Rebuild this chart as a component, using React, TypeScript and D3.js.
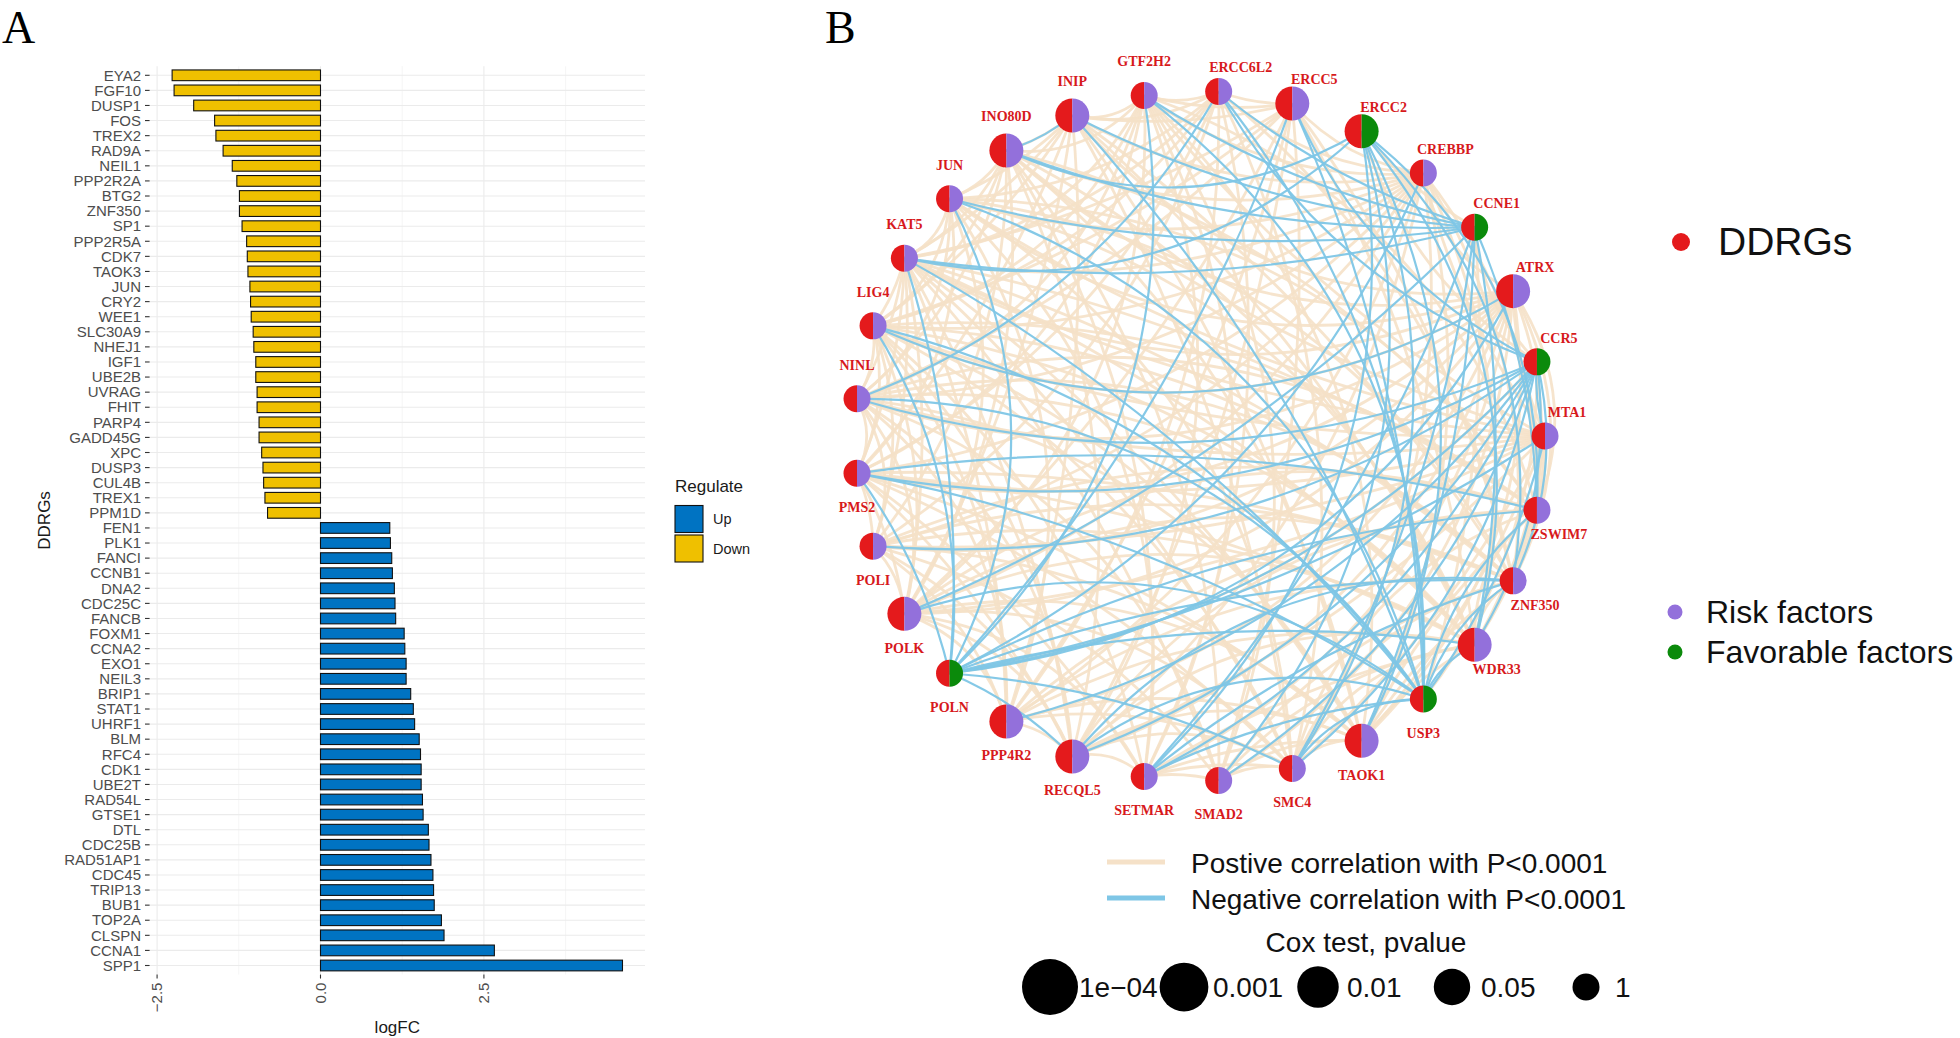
import React from "react";
import * as d3 from "d3";

// ---------- Panel A data ----------
const downGenes = ["EYA2","FGF10","DUSP1","FOS","TREX2","RAD9A","NEIL1","PPP2R2A","BTG2","ZNF350","SP1","PPP2R5A","CDK7","TAOK3","JUN","CRY2","WEE1","SLC30A9","NHEJ1","IGF1","UBE2B","UVRAG","FHIT","PARP4","GADD45G","XPC","DUSP3","CUL4B","TREX1","PPM1D"];
const downLogFC = [-2.27,-2.24,-1.94,-1.62,-1.60,-1.49,-1.35,-1.28,-1.24,-1.24,-1.20,-1.13,-1.12,-1.11,-1.08,-1.07,-1.06,-1.03,-1.02,-0.99,-0.99,-0.97,-0.97,-0.94,-0.94,-0.90,-0.88,-0.87,-0.85,-0.81];
const upGenes = ["FEN1","PLK1","FANCI","CCNB1","DNA2","CDC25C","FANCB","FOXM1","CCNA2","EXO1","NEIL3","BRIP1","STAT1","UHRF1","BLM","RFC4","CDK1","UBE2T","RAD54L","GTSE1","DTL","CDC25B","RAD51AP1","CDC45","TRIP13","BUB1","TOP2A","CLSPN","CCNA1","SPP1"];
const upLogFC = [1.06,1.07,1.09,1.10,1.13,1.14,1.15,1.28,1.29,1.31,1.31,1.38,1.42,1.44,1.51,1.53,1.54,1.54,1.56,1.57,1.65,1.66,1.69,1.72,1.73,1.74,1.85,1.89,2.66,4.62];
const regulateLevels = ["Up", "Down"];
const xTicksA = [-2.5, 0, 2.5];
const xTickLabelsA = ["\u22122.5", "0.0", "2.5"];

// ---------- Panel B data ----------
const networkGenes = ["MTA1","CCR5","ATRX","CCNE1","CREBBP","ERCC2","ERCC5","ERCC6L2","GTF2H2","INIP","INO80D","JUN","KAT5","LIG4","NINL","PMS2","POLI","POLK","POLN","PPP4R2","RECQL5","SETMAR","SMAD2","SMC4","TAOK1","USP3","WDR33","ZNF350","ZSWIM7"];
const favorableGenes = ["CCR5","CCNE1","ERCC2","POLN","USP3"];
const largeNodeGenes = ["INIP","ERCC5","ERCC2","ATRX","INO80D","WDR33","TAOK1","RECQL5","PPP4R2","POLK"];
const negativeEdgeList =
  "INO80D:INIP,ERCC2,CCNE1;JUN:CCNE1,USP3,POLN;KAT5:CCNE1,ERCC2,USP3,POLN;LIG4:ATRX,POLN,USP3;" +
  "NINL:ERCC6L2,CCR5,USP3;PMS2:ZSWIM7,POLN,CCR5,USP3;POLI:CCR5;POLK:USP3,CCNE1;" +
  "POLN:MTA1,ZSWIM7,ATRX,ZNF350,WDR33,SMC4,RECQL5,ERCC5,CREBBP,GTF2H2,CCR5;PPP4R2:CCR5;" +
  "RECQL5:ZNF350,CCR5;SETMAR:ZNF350,CCNE1,CCR5;SMAD2:ERCC2,CCR5;SMC4:CCNE1,ERCC2;TAOK1:CCNE1,ERCC2;" +
  "USP3:ERCC6L2,ERCC5,ZSWIM7,ZNF350,WDR33,MTA1,GTF2H2,SMC4,SETMAR,INIP,RECQL5;" +
  "ERCC2:WDR33,ZNF350,SETMAR,ZSWIM7;CCNE1:WDR33,ZSWIM7,ERCC6L2,GTF2H2,INIP;" +
  "CCR5:MTA1,ERCC6L2,ERCC5,ZNF350,WDR33,SMC4";
const positiveEdgeList =
  "MTA1:ATRX,ZSWIM7,ZNF350,WDR33,KAT5,LIG4,NINL,PMS2,POLI,POLK,INO80D,JUN,RECQL5,SMC4,TAOK1,CREBBP,GTF2H2;" +
  "ATRX:CREBBP,ZSWIM7,ZNF350,KAT5,LIG4,NINL,PMS2,POLI,POLK,INO80D,INIP,JUN,PPP4R2,RECQL5,SETMAR,SMAD2,TAOK1,WDR33;" +
  "CREBBP:ERCC5,ERCC6L2,GTF2H2,INIP,INO80D,JUN,KAT5,LIG4,NINL,PMS2,POLI,POLK,PPP4R2,RECQL5,SMC4,WDR33,ZNF350,ZSWIM7,TAOK1;" +
  "ERCC5:INIP,GTF2H2,ERCC6L2,KAT5,LIG4,NINL,POLK,PPP4R2,RECQL5,SMAD2,ZNF350,WDR33;" +
  "ERCC6L2:GTF2H2,INIP,JUN,KAT5,LIG4,PMS2,POLI,PPP4R2,SETMAR,SMC4,ZNF350;" +
  "GTF2H2:INIP,INO80D,KAT5,LIG4,NINL,PMS2,POLK,RECQL5,SETMAR,SMAD2,TAOK1,ZSWIM7;" +
  "INIP:INO80D,JUN,KAT5,LIG4,PMS2,POLK,PPP4R2,SMC4,TAOK1,WDR33,ZNF350;" +
  "INO80D:JUN,KAT5,LIG4,NINL,POLI,POLK,RECQL5,SETMAR,SMAD2,ZSWIM7,WDR33,TAOK1;" +
  "JUN:KAT5,LIG4,NINL,PMS2,POLK,PPP4R2,SETMAR,SMC4,WDR33,ZNF350,ZSWIM7;" +
  "KAT5:LIG4,NINL,PMS2,POLI,POLK,PPP4R2,RECQL5,SMAD2,SMC4,TAOK1,WDR33,ZNF350,ZSWIM7;" +
  "LIG4:NINL,PMS2,POLI,POLK,PPP4R2,RECQL5,SETMAR,SMC4,TAOK1,WDR33,ZNF350,ZSWIM7;" +
  "NINL:PMS2,POLI,POLK,PPP4R2,RECQL5,SMAD2,TAOK1,WDR33,ZNF350,ZSWIM7;" +
  "PMS2:POLI,POLK,RECQL5,SETMAR,SMC4,TAOK1,WDR33,ZNF350;" +
  "POLI:POLK,PPP4R2,RECQL5,SMAD2,TAOK1,WDR33,ZNF350,ZSWIM7;" +
  "POLK:PPP4R2,RECQL5,SETMAR,SMC4,TAOK1,WDR33,ZNF350,ZSWIM7;" +
  "PPP4R2:RECQL5,SMC4,TAOK1,WDR33,ZNF350,ZSWIM7;RECQL5:SETMAR,SMC4,TAOK1,WDR33,ZSWIM7;" +
  "SETMAR:SMAD2,SMC4,TAOK1,WDR33;SMAD2:SMC4,TAOK1,WDR33,ZNF350;SMC4:TAOK1,WDR33,ZNF350,ZSWIM7;" +
  "TAOK1:WDR33,ZNF350,ZSWIM7;WDR33:ZNF350,ZSWIM7;ZNF350:ZSWIM7;" +
  "CCR5:CCNE1,USP3,POLN,ERCC2;CCNE1:ERCC2,USP3";
const coxValues = [1e-4, 0.001, 0.01, 0.05, 1];
const coxLabels = ["1e\u221204", "0.001", "0.01", "0.05", "1"];

const SANS = "'Liberation Sans', Arial, sans-serif";
const SERIF = "'Liberation Serif', 'Times New Roman', serif";

function parseEdges(s: string): [string, string][] {
  return s.split(";").filter(Boolean).flatMap((part) => {
    const [src, tgts] = part.split(":");
    return tgts.split(",").map((t) => [src, t] as [string, string]);
  });
}

function PanelA() {
  const genes = [...downGenes, ...upGenes];
  const values = [...downLogFC, ...upLogFC];
  const ext = d3.extent(values) as [number, number];
  const pad = (ext[1] - ext[0]) * 0.05;
  const x = d3.scaleLinear().domain([ext[0] - pad, ext[1] + pad]).range([149.6, 645]);
  const y = d3.scalePoint<string>().domain(genes).range([75.3, 965.5]);
  const step = y.step();
  const top = 75.3 - 0.6 * step;
  const bottom = 965.5 + 0.6 * step;
  const barH = step * 0.71;
  const color = d3.scaleOrdinal<string, string>().domain(regulateLevels).range(["#0073C2", "#EFC000"]);
  const minor = [-3.75, -1.25, 1.25, 3.75].filter((v) => v >= x.domain()[0] && v <= x.domain()[1]);
  const [x0, x1] = x.range();
  return (
    <g>
      <text x={2} y={43} fontFamily={SERIF} fontSize={46}>A</text>
      {minor.map((v) => (
        <line key={"mn" + v} x1={x(v)} x2={x(v)} y1={top} y2={bottom} stroke="#F2F2F2" strokeWidth={0.8} />
      ))}
      {genes.map((g) => (
        <line key={"hg" + g} x1={x0} x2={x1} y1={y(g)} y2={y(g)} stroke="#EBEBEB" strokeWidth={1.1} />
      ))}
      {xTicksA.map((v) => (
        <line key={"mj" + v} x1={x(v)} x2={x(v)} y1={top} y2={bottom} stroke="#EBEBEB" strokeWidth={1.1} />
      ))}
      {genes.map((g, i) => {
        const v = values[i];
        const reg = v >= 0 ? "Up" : "Down";
        return (
          <rect key={"b" + g} x={Math.min(x(0), x(v))} y={(y(g) as number) - barH / 2}
            width={Math.abs(x(v) - x(0))} height={barH} fill={color(reg)} stroke="#111" strokeWidth={1.1} />
        );
      })}
      {genes.map((g) => (
        <g key={"yt" + g}>
          <line x1={145} x2={149.6} y1={y(g)} y2={y(g)} stroke="#333" strokeWidth={1.1} />
          <text x={141} y={y(g)} dy="0.35em" textAnchor="end" fontFamily={SANS} fontSize={15} fill="#4D4D4D">{g}</text>
        </g>
      ))}
      {xTicksA.map((v, i) => (
        <g key={"xt" + v}>
          <line x1={x(v)} x2={x(v)} y1={bottom} y2={bottom + 4} stroke="#333" strokeWidth={1.1} />
          <text transform={`translate(${x(v)},${bottom + 8}) rotate(-90)`} textAnchor="end" dy="0.35em"
            fontFamily={SANS} fontSize={15} fill="#4D4D4D">{xTickLabelsA[i]}</text>
        </g>
      ))}
      <text x={(x0 + x1) / 2} y={1033} textAnchor="middle" fontFamily={SANS} fontSize={17} fill="#1A1A1A">logFC</text>
      <text transform={`translate(50,${(top + bottom) / 2}) rotate(-90)`} textAnchor="middle" fontFamily={SANS} fontSize={17} fill="#1A1A1A">DDRGs</text>
      <text x={675} y={492} fontFamily={SANS} fontSize={17} fill="#1A1A1A">Regulate</text>
      {regulateLevels.map((r, i) => (
        <g key={"lg" + r}>
          <rect x={675} y={505.5 + i * 29.5} width={28} height={27} fill={color(r)} stroke="#111" strokeWidth={1.1} />
          <text x={713} y={519 + i * 29.5} dy="0.35em" fontFamily={SANS} fontSize={14.5} fill="#1A1A1A">{r}</text>
        </g>
      ))}
    </g>
  );
}

function PanelB() {
  const cx = 1200, cy = 436, R = 345;
  const n = networkGenes.length;
  const angle = d3.scaleLinear().domain([0, n]).range([0, 2 * Math.PI]);
  const pos = new Map<string, { x: number; y: number; i: number }>();
  networkGenes.forEach((g, i) => {
    const a = angle(i);
    pos.set(g, { x: cx + R * Math.cos(a), y: cy - R * Math.sin(a), i });
  });
  const radius = (g: string) => (largeNodeGenes.includes(g) ? 17 : 13.5);
  const curv = [0.1, 0.18, 0.26];
  const edgePath = (a: string, b: string) => {
    let p = pos.get(a)!, q = pos.get(b)!;
    if (p.i > q.i) [p, q] = [q, p];
    const dx = q.x - p.x, dy = q.y - p.y;
    const c = curv[(p.i * 7 + q.i * 3) % 3];
    const mx = (p.x + q.x) / 2 + dy * c;
    const my = (p.y + q.y) / 2 - dx * c;
    const path = d3.path();
    path.moveTo(p.x, p.y);
    path.quadraticCurveTo(mx, my, q.x, q.y);
    return path.toString();
  };
  const posEdges = parseEdges(positiveEdgeList);
  const negEdges = parseEdges(negativeEdgeList);
  const arcL = d3.arc<any>().innerRadius(0).startAngle(Math.PI).endAngle(2 * Math.PI);
  const arcR = d3.arc<any>().innerRadius(0).startAngle(0).endAngle(Math.PI);
  const cox = d3.scaleLog().domain([1e-4, 1]).range([28, 13.5]);
  const RED = "#E41A1C", PURPLE = "#9370DB", GREEN = "#0B8A0B";
  const labelOffset = (i: number) => {
    if (i <= 7) return [22, -24];
    if (i <= 14) return [0, -34];
    if (i <= 25) return [0, 34];
    return [22, 24];
  };
  return (
    <g>
      <text x={825} y={43} fontFamily={SERIF} fontSize={46}>B</text>
      <g fill="none">
        {posEdges.map(([a, b], k) => (
          <path key={"pe" + k} d={edgePath(a, b)} stroke="#F5E1C8" strokeWidth={2.8} strokeOpacity={0.9} />
        ))}
        {negEdges.map(([a, b], k) => (
          <path key={"ne" + k} d={edgePath(a, b)} stroke="#7EC6E6" strokeWidth={2.2} strokeOpacity={0.95} />
        ))}
      </g>
      {networkGenes.map((g, i) => {
        const p = pos.get(g)!;
        const r = radius(g);
        const [ox, oy] = labelOffset(i);
        return (
          <g key={"n" + g}>
            <g transform={`translate(${p.x},${p.y})`}>
              <path d={arcL.outerRadius(r)({}) as string} fill={RED} />
              <path d={arcR.outerRadius(r)({}) as string} fill={favorableGenes.includes(g) ? GREEN : PURPLE} />
            </g>
            <text x={p.x + ox} y={p.y + oy} dy="0.35em" textAnchor="middle" fontFamily={SERIF}
              fontWeight="bold" fontSize={14} fill="#D7191C">{g}</text>
          </g>
        );
      })}
      {/* right legend */}
      <circle cx={1681} cy={242} r={9} fill={RED} />
      <text x={1718} y={255} fontFamily={SANS} fontSize={39} fill="#111">DDRGs</text>
      <circle cx={1675} cy={612} r={7.5} fill={PURPLE} />
      <text x={1706} y={623} fontFamily={SANS} fontSize={32} fill="#111">Risk factors</text>
      <circle cx={1675} cy={652} r={7.5} fill={GREEN} />
      <text x={1706} y={663} fontFamily={SANS} fontSize={32} fill="#111">Favorable factors</text>
      {/* bottom legend */}
      <line x1={1107} x2={1165} y1={862} y2={862} stroke="#F5E1C8" strokeWidth={5} />
      <text x={1191} y={873} fontFamily={SANS} fontSize={28} fill="#111">Postive correlation with P&lt;0.0001</text>
      <line x1={1107} x2={1165} y1={898} y2={898} stroke="#7EC6E6" strokeWidth={5} />
      <text x={1191} y={909} fontFamily={SANS} fontSize={28} fill="#111">Negative correlation with P&lt;0.0001</text>
      <text x={1366} y={952} textAnchor="middle" fontFamily={SANS} fontSize={28} fill="#111">Cox test, pvalue</text>
      {coxValues.map((v, i) => {
        const ccx = 1050 + i * 134;
        return (
          <g key={"cx" + i}>
            <circle cx={ccx} cy={987} r={cox(v)} fill="#000" />
            <text x={ccx + 29} y={997} fontFamily={SANS} fontSize={28} fill="#111">{coxLabels[i]}</text>
          </g>
        );
      })}
    </g>
  );
}

export default function App() {
  return (
    <svg width={1960} height={1038} style={{ position: "absolute", left: 0, top: 0, background: "#fff" }}>
      <rect width={1960} height={1038} fill="#fff" />
      <PanelA />
      <PanelB />
    </svg>
  );
}
